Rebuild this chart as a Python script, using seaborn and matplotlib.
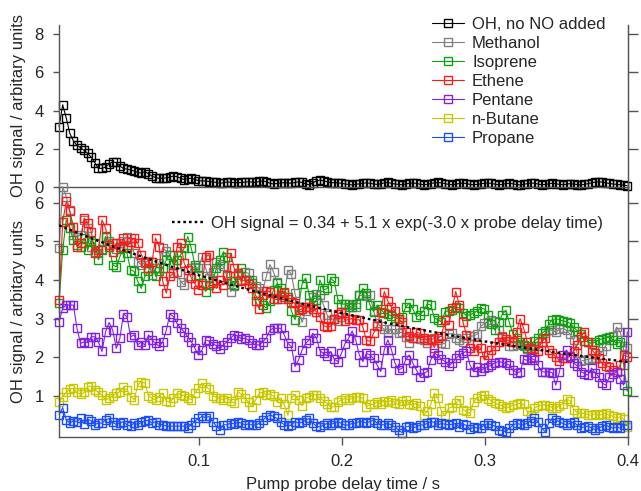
import numpy as np
import pandas as pd
import matplotlib
matplotlib.use("Agg")
import matplotlib.pyplot as plt
import seaborn as sns

# pump probe delay grid (s) and OH signal traces
T0 = 0.002
DT = 0.0025

oh_no_no = [3.15, 4.3, 3.6, 2.8, 2.4, 2.17, 2.05, 1.9, 1.75, 1.55, 1.25, 0.96, 0.96, 1.03, 1.2, 1.3,
            1.27, 1.08, 0.96, 0.92, 0.88, 0.82, 0.75, 0.71, 0.79, 0.68, 0.55, 0.48, 0.44, 0.44, 0.47,
            0.5, 0.56, 0.52, 0.45, 0.37, 0.42, 0.44, 0.38, 0.32, 0.3, 0.3, 0.27, 0.25, 0.22, 0.18, 0.2,
            0.25, 0.23, 0.21, 0.21, 0.22, 0.24, 0.26, 0.24, 0.22, 0.28, 0.3, 0.26, 0.18, 0.14, 0.17,
            0.2, 0.21, 0.2, 0.18, 0.22, 0.26, 0.22, 0.15, 0.09, 0.2, 0.31, 0.35, 0.3, 0.26, 0.21, 0.21,
            0.2, 0.18, 0.14, 0.12, 0.09, 0.12, 0.15, 0.18, 0.2, 0.18, 0.14, 0.12, 0.15, 0.2, 0.22, 0.18,
            0.14, 0.12, 0.1, 0.14, 0.18, 0.2, 0.17, 0.13, 0.1, 0.12, 0.16, 0.2, 0.22, 0.2, 0.16, 0.12,
            0.1, 0.13, 0.17, 0.19, 0.16, 0.12, 0.1, 0.12, 0.15, 0.18, 0.2, 0.17, 0.13, 0.1, 0.12, 0.16,
            0.18, 0.15, 0.11, 0.09, 0.12, 0.16, 0.2, 0.18, 0.14, 0.1, 0.12, 0.15, 0.18, 0.16, 0.12, 0.1,
            0.13, 0.16, 0.14, 0.11, 0.09, 0.12, 0.16, 0.2, 0.24, 0.26, 0.24, 0.2, 0.17, 0.14, 0.12, 0.1,
            0.08, 0.05]

methanol = [4.83, 6.41, 6.15, 5.8, 5.15, 5.12, 5.16, 5.55, 5.35, 4.85, 4.73, 4.69, 4.8, 5.12, 5.0,
            4.95, 4.8, 4.95, 5.0, 5.12, 5.08, 4.7, 4.47, 4.39, 4.45, 4.5, 4.13, 4.3, 4.45, 4.82, 4.75,
            4.65, 4.4, 4.2, 3.95, 3.87, 4.1, 4.3, 4.34, 4.3, 4.6, 4.3, 4.04, 4.2, 4.47, 4.4, 4.35, 4.1,
            3.7, 3.85, 4.13, 4.0,
            4.2, 4.17, 4.0, 3.85, 3.78, 3.72, 4.1, 4.4, 4.2, 3.95, 3.5, 3.55, 4.25, 4.15, 3.65, 3.3,
            2.9, 3.2, 3.4, 3.55, 3.63, 3.6, 3.35, 3.1, 2.97, 3.0, 2.95, 3.05, 3.14, 3.38, 3.35, 3.3,
            3.6, 3.6, 3.58, 3.6, 3.2, 2.88, 2.8, 2.72, 2.62, 2.72, 2.72, 2.62, 2.65, 2.53, 2.38, 2.5,
            2.5, 2.48, 2.45, 2.36, 2.45, 2.5, 2.45, 2.38,
            2.35, 2.6, 2.62, 2.5, 2.45, 2.4, 2.5, 2.55, 2.55, 2.6, 2.8, 2.88, 2.92, 2.97, 2.94, 2.7,
            2.55, 2.42, 2.3, 2.28, 2.32, 2.35, 2.28, 2.22, 2.2, 2.22, 2.3, 2.4, 2.62, 2.7, 2.7, 2.66,
            2.72, 2.75, 2.7, 2.6, 2.45, 2.1, 1.9, 1.92, 1.95, 1.97, 1.95, 2.05, 2.15, 2.3, 2.45, 2.55,
            2.78, 2.66, 2.3, 2.25]

isoprene = [3.4, 4.78, 5.55, 5.34, 5.03, 4.9, 4.86, 5.08, 4.78, 5.0, 4.95, 4.52, 4.78, 5.12, 4.86,
            4.39, 4.34, 4.6, 4.82, 4.69, 4.26, 4.22, 3.96, 3.78, 4.09, 4.22, 4.47, 4.09, 4.22, 4.3,
            4.52, 4.65, 4.39, 4.52, 4.65, 4.82, 5.12, 4.82, 4.39, 4.13, 3.91, 3.7, 3.87, 3.96, 4.3,
            4.52, 4.73, 4.6, 3.96, 3.87, 4.13, 4.3,
            4.0, 4.0, 3.91, 3.6, 3.45, 3.35, 3.27, 3.45, 3.75, 3.91, 3.78, 3.65, 3.55, 3.2, 2.97, 3.3,
            3.9, 4.05, 3.6, 3.35, 3.48, 4.0, 3.74, 3.78, 4.04, 3.96, 3.5, 3.37, 3.38, 3.31, 3.3, 3.38,
            3.6, 3.78, 3.65, 3.35, 3.18, 3.35, 3.25, 3.14, 3.12, 3.06, 3.02, 3.0, 3.05, 3.3, 3.4, 3.25,
            3.05, 3.1, 3.2, 3.38, 3.35, 3.02, 2.97, 2.92,
            3.18, 3.2, 3.22, 3.3, 3.28, 3.15, 3.08, 3.1, 3.14, 3.2, 3.27, 3.25, 3.1, 2.85, 2.7, 2.9,
            3.1, 3.22, 2.9, 2.6, 2.5, 2.4, 2.32, 2.25, 2.28, 2.42, 2.5, 2.62, 2.68, 2.85, 2.97, 3.0,
            2.97, 2.94, 2.92, 2.88, 2.78, 2.68, 2.6, 2.42, 2.4, 2.35, 2.4, 2.45, 2.48, 2.5, 2.52, 2.45,
            2.35, 2.4, 1.8, 1.12]

ethene = [3.48, 5.5, 6.03, 5.77, 5.38, 4.86, 4.95, 5.6, 5.47, 5.25, 4.69, 4.78, 5.55, 5.34, 4.9,
          4.73, 4.95, 4.86, 5.08, 4.86, 4.99, 5.08, 4.95, 4.65, 4.47, 4.3, 4.47, 5.08, 4.86, 3.96,
          3.66, 4.09, 4.17, 4.86, 4.95, 4.43, 4.26, 4.05, 3.9, 3.75, 3.87, 4.6, 4.65, 3.91, 3.78,
          4.0, 3.87, 4.13, 4.69, 4.3, 4.17, 3.96,
          4.0, 3.9, 3.8, 3.45, 3.25, 3.6, 3.72, 3.7, 3.5, 3.5, 3.62, 3.68, 3.5, 3.42, 3.4, 3.22,
          3.25, 3.3, 3.31, 3.25, 3.18, 3.05, 2.82, 2.78, 2.8, 3.0, 3.12, 3.18, 2.95, 2.98, 3.0, 2.97,
          2.97, 2.78, 2.45, 2.41, 2.62, 2.8, 3.18, 3.7, 3.45, 3.3, 3.2, 3.0, 2.9, 2.65, 2.55, 2.49,
          2.65, 2.62, 2.5, 2.45, 2.48, 2.25, 2.5, 2.55,
          2.97, 2.84, 3.27, 3.7, 3.35, 2.92, 2.58, 2.23, 2.15, 2.32, 2.23, 1.93, 2.06, 2.19, 2.28,
          2.4, 2.53, 2.47, 2.42, 2.4, 2.66, 3.0, 2.75, 2.4, 2.23, 2.02, 2.15, 2.4, 2.49, 2.19, 2.1,
          2.02, 1.9, 1.99, 1.97, 2.04, 2.15, 2.32, 2.53, 2.66, 2.4, 2.19, 2.1, 1.97, 1.84, 1.78,
          1.76, 1.67, 1.63, 1.8, 2.06, 2.02]

pentane = [2.92, 3.27, 3.35, 3.35, 3.35, 2.75, 2.36, 2.4, 2.38, 2.53, 2.53, 2.4, 2.15, 2.66, 2.9,
           2.7, 2.23, 2.49, 3.12, 3.05, 2.53, 2.58, 2.32, 2.4, 2.32, 2.58, 2.45, 2.36, 2.28, 2.4,
           2.7, 3.12, 3.05, 2.88, 2.75, 2.66, 2.53, 2.4, 2.23, 2.06, 2.19,
           2.45, 2.42, 2.35, 2.3, 2.22, 2.32, 2.4, 2.5, 2.58, 2.55, 2.48,
           2.49, 2.45, 2.36, 2.32, 2.32, 2.4, 2.5, 2.7, 2.75, 2.75, 2.75, 2.58, 2.36, 2.28, 1.76,
           1.93, 2.19, 2.36, 2.45, 2.62, 2.5, 2.17, 2.1, 2.04, 2.15, 1.95, 1.89, 2.1, 2.35, 2.49,
           2.68, 2.45, 2.06, 1.89, 2.1, 2.06, 1.97, 1.8, 1.63, 2.2, 2.45, 2.2, 1.85, 1.67, 1.72,
           1.93, 2.06, 1.85, 1.67, 1.5, 1.59, 1.63, 1.93, 2.1, 2.06, 1.95,
           1.89, 1.78, 1.85, 1.97, 2.06, 2.12, 2.15, 1.8, 1.63, 1.75, 1.65, 1.72, 1.76, 1.8, 1.86,
           1.89, 1.87, 1.84, 1.8, 1.67, 1.6, 1.62, 1.95, 1.92, 1.97, 1.94, 1.8, 1.63, 1.62, 1.63,
           1.6, 1.28, 1.62, 2.06, 2.19, 2.0, 1.85, 1.78, 1.63, 1.58, 1.54, 1.72, 1.6, 1.5, 1.33,
           1.28, 1.5, 1.56, 1.63, 1.45, 1.28, 2.66]

n_butane = [0.85, 0.98, 1.09, 1.18, 1.2, 1.09, 1.04, 1.09, 1.24, 1.26, 1.16, 1.09, 1.03, 0.9, 0.94,
            1.01, 1.07, 1.11, 1.22, 1.16, 0.98, 0.9, 1.28, 1.37, 1.33, 1.01, 0.94, 0.9, 0.98, 1.07,
            0.87, 0.84, 0.94, 1.07, 1.03, 1.01, 0.96, 0.9, 1.07, 1.2, 1.33, 1.24, 1.18, 1.01, 0.96,
            0.94, 0.9, 0.96, 0.87, 0.81, 1.11, 1.04,
            0.94, 0.85, 0.72, 0.9, 1.07, 1.1, 1.03, 1.05, 1.0, 0.85, 0.94, 0.78, 0.5, 0.95, 1.03,
            0.9, 0.75, 0.94, 0.98, 1.03, 1.03, 0.94, 0.88, 0.8, 0.72, 0.72, 0.85, 0.9, 0.94, 0.9,
            0.94, 0.98, 0.98, 0.94, 0.72, 0.78, 0.78, 0.85, 0.8, 0.88, 0.84, 0.9, 0.82, 0.78, 0.86,
            0.9, 0.8, 0.76, 0.82, 0.74, 0.5, 0.6, 0.78, 1.07, 0.95, 0.6,
            0.5, 0.68, 0.72, 0.81, 0.9, 0.65, 0.6, 0.55, 0.85, 0.95, 1.0, 1.03, 0.92, 0.88, 0.81,
            0.78, 0.75, 0.68, 0.72, 0.76, 0.78, 0.81, 0.78, 0.6, 0.5, 0.68, 0.74, 0.77, 0.77, 0.74,
            0.7, 0.68, 0.75, 0.8, 0.92, 0.88, 0.65, 0.57, 0.55, 0.55, 0.52, 0.5, 0.54, 0.5, 0.53,
            0.55, 0.5, 0.48, 0.42, 0.46, 0.4, 0.2]

propane = [0.51, 0.7, 0.38, 0.3, 0.36, 0.34, 0.42, 0.28, 0.4, 0.36, 0.26, 0.3, 0.3, 0.38, 0.42,
           0.32, 0.26, 0.3, 0.34, 0.25, 0.22, 0.3, 0.26, 0.32, 0.36, 0.37, 0.3, 0.34, 0.26, 0.26,
           0.22, 0.22, 0.22, 0.22, 0.22, 0.22, 0.18, 0.26, 0.34, 0.42, 0.47, 0.44, 0.47, 0.34, 0.22,
           0.13, 0.26, 0.25, 0.3, 0.28, 0.32, 0.3,
           0.25, 0.28, 0.25, 0.25, 0.29, 0.38, 0.45, 0.51, 0.47, 0.42, 0.32, 0.26, 0.22, 0.25, 0.34,
           0.3, 0.32, 0.38, 0.42, 0.3, 0.22, 0.2, 0.25, 0.29, 0.26, 0.3, 0.34, 0.29, 0.25, 0.25,
           0.29, 0.3, 0.34, 0.34, 0.3, 0.34, 0.38, 0.3, 0.25, 0.26, 0.29, 0.25, 0.2, 0.12, 0.05,
           0.2, 0.22, 0.18, 0.2, 0.25, 0.25, 0.29, 0.34, 0.32, 0.25, 0.29,
           0.27, 0.25, 0.27, 0.29, 0.2, 0.27, 0.24, 0.14, 0.2, 0.17, 0.18, 0.25, 0.29, 0.25, 0.22,
           0.13, 0.1, 0.08, 0.16, 0.25, 0.29, 0.27, 0.25, 0.3, 0.36, 0.42, 0.34, 0.17, 0.08, 0.3,
           0.42, 0.38, 0.33, 0.29, 0.25, 0.3, 0.32, 0.25, 0.18, 0.2, 0.22, 0.17, 0.13, 0.17, 0.22,
           0.25, 0.2, 0.17, 0.2, 0.17, 0.25, 0.25]

# single exponential fit
fit_time = [0.002, 0.02, 0.04, 0.06, 0.08, 0.10, 0.12, 0.14, 0.16, 0.18, 0.20,
            0.22, 0.24, 0.26, 0.28, 0.30, 0.32, 0.34, 0.36, 0.38, 0.40]
fit_signal = [5.41, 5.14, 4.86, 4.60, 4.35, 4.12, 3.90, 3.69, 3.50, 3.31, 3.14,
              2.98, 2.82, 2.68, 2.54, 2.41, 2.29, 2.18, 2.07, 1.97, 1.88]
fit_label = "OH signal = 0.34 + 5.1 x exp(-3.0 x probe delay time)"

species = ["OH, no NO added", "Methanol", "Isoprene", "Ethene", "Pentane", "n-Butane", "Propane"]
traces = [oh_no_no, methanol, isoprene, ethene, pentane, n_butane, propane]
colors = ["#000000", "#808080", "#12a012", "#ff1a1a", "#7f22e6", "#c8c800", "#1a4dff"]

frames = []
for name, vals in zip(species, traces):
    t = np.round(T0 + DT * np.arange(len(vals)), 5)
    frames.append(pd.DataFrame({"delay_time": t, "signal": vals, "species": name}))
df = pd.concat(frames, ignore_index=True)

sns.set_style("ticks")
plt.rcParams["font.family"] = ["Liberation Sans", "DejaVu Sans"]
plt.rcParams["font.size"] = 12
spine_col = "#555555"

fig = plt.figure(figsize=(6.41, 4.91), dpi=100)
ax_top = fig.add_axes([0.092, 0.6198, 0.8877, 0.3293])
ax_bot = fig.add_axes([0.092, 0.110, 0.8877, 0.5098])
# transparent backgrounds so the shared zero line and unclipped markers stay visible
ax_top.patch.set_visible(False)
ax_bot.patch.set_visible(False)

handles = []
for name, color in zip(species, colors):
    ax = ax_top if name == species[0] else ax_bot
    sns.lineplot(data=df[df["species"] == name], x="delay_time", y="signal", ax=ax,
                 color=color, lw=0.8, marker="s", markersize=5.4, estimator=None,
                 legend=False, clip_on=False)
    line = ax.lines[-1]
    line.set_markerfacecolor("none")
    line.set_markeredgecolor(color)
    line.set_markeredgewidth(1.0)
    handles.append(line)

sns.lineplot(x=fit_time, y=fit_signal, ax=ax_bot, color="black", lw=1.7,
             linestyle=(0, (1.1, 1.3)), zorder=6, legend=False)
fit_line = ax_bot.lines[-1]

for ax in (ax_top, ax_bot):
    ax.set_xlim(0.0019, 0.4)
    ax.spines["top"].set_visible(False)
    for side in ("left", "right", "bottom"):
        ax.spines[side].set_color(spine_col)
        ax.spines[side].set_linewidth(1.0)
    ax.tick_params(axis="y", which="major", direction="out", length=4, width=1.0,
                   color=spine_col, pad=7, labelsize=12, left=True, right=False)
    ax.set_ylabel("OH signal / arbitary units", fontsize=12)
    ax.yaxis.set_label_coords(-0.058, 0.5)
    # outward ticks on the right-hand axis, no labels
    sec = ax.secondary_yaxis("right")
    sec.spines["right"].set_color(spine_col)
    sec.tick_params(axis="y", direction="out", length=7, width=1.0, color=spine_col,
                    labelright=False)

ax_top.set_ylim(0, 8.49)
ax_top.set_yticks([0, 2, 4, 6, 8])
ax_top.tick_params(axis="x", bottom=False, labelbottom=False)
ax_top.set_xlabel("")
ax_top.child_axes[0].set_yticks([2, 4, 6, 8])

ax_bot.set_ylim(-0.06, 6.41)
ax_bot.set_yticks([1, 2, 3, 4, 5, 6])
ax_bot.child_axes[0].set_yticks([1, 2, 3, 4, 5, 6])
ax_bot.set_xticks([0.1, 0.2, 0.3, 0.4])
ax_bot.set_xticklabels(["0.1", "0.2", "0.3", "0.4"])
ax_bot.tick_params(axis="x", direction="out", length=6, width=1.0, color=spine_col,
                   pad=6, labelsize=12)
ax_bot.set_xlabel("Pump probe delay time / s", fontsize=12, labelpad=6)

fig.legend(handles, species, loc="upper left", bbox_to_anchor=(0.674, 0.966),
           bbox_transform=fig.transFigure, frameon=False, fontsize=12, handlelength=1.9,
           handletextpad=0.5, labelspacing=0.24, borderpad=0, borderaxespad=0)
ax_bot.legend([fit_line], [fit_label], loc="upper left", bbox_to_anchor=(0.268, 0.560),
              bbox_transform=fig.transFigure, frameon=False, fontsize=12, handlelength=1.9,
              handletextpad=0.45, borderpad=0, borderaxespad=0)

fig.savefig("out.png", dpi=100)
